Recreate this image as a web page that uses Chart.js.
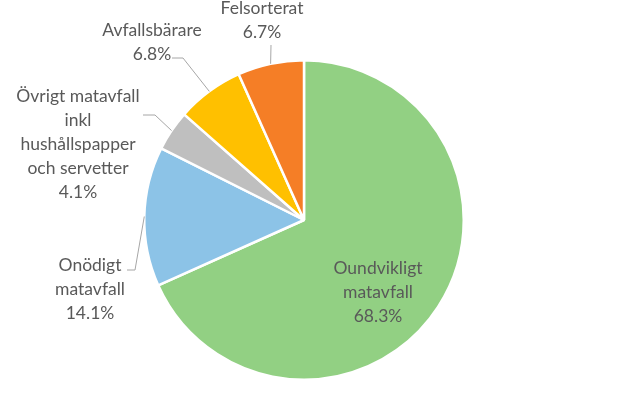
<!DOCTYPE html>
<html>
<head>
<meta charset="utf-8">
<script src="https://cdn.jsdelivr.net/npm/chart.js@4/dist/chart.umd.min.js"></script>
<style>
  html, body { margin: 0; padding: 0; background: #fff; }
  .wrap { width: 618px; height: 413px; position: relative; }
</style>
</head>
<body>
<div class="wrap"><canvas id="pie"></canvas></div>
<script>
/* ===== Data ===== */
const categories = [
  ['Oundvikligt', 'matavfall'],
  ['Onödigt', 'matavfall'],
  ['Övrigt matavfall', 'inkl', 'hushållspapper', 'och servetter'],
  ['Avfallsbärare'],
  ['Felsorterat']
];
const shares = [68.3, 14.1, 4.1, 6.8, 6.7];
const sliceColors = ['#92D083', '#8CC3E7', '#BFBFBF', '#FFC000', '#F57E26'];

/* ===== Label placement, relative to pie centre (px) ===== */
// text: centre of the text block; elbow: where the leader line bends; end: where it meets the text
const labelLayout = [
  { text: [74, 72], inside: true },
  { text: [-214, 69], elbow: [-169, 50], end: [-177, 50] },
  { text: [-226, -76], elbow: [-149, -105], end: [-161, -105] },
  { text: [-152, -178], elbow: [-121, -162], end: [-132, -162] },
  { text: [-42, -200], elbow: [-33, -175], end: [-33, -175] }
];

const LINE_H = 24;
const FONT = '17.5px Lato, "Noto Sans", sans-serif';

const labelPlugin = {
  id: 'excelLabels',
  afterDatasetsDraw(chart) {
    const ctx = chart.ctx;
    const meta = chart.getDatasetMeta(0);
    ctx.save();
    ctx.font = FONT;
    ctx.textAlign = 'center';
    ctx.textBaseline = 'middle';
    meta.data.forEach((arc, i) => {
      const cx = arc.x, cy = arc.y;
      const mid = (arc.startAngle + arc.endAngle) / 2;
      const lay = labelLayout[i];
      const lines = categories[i].concat([shares[i].toFixed(1) + '%']);
      const tx = cx + lay.text[0], ty = cy + lay.text[1];

      if (!lay.inside) {
        // leader line from slice edge
        const sx = cx + Math.cos(mid) * arc.outerRadius;
        const sy = cy + Math.sin(mid) * arc.outerRadius;
        ctx.strokeStyle = '#A6A6A6';
        ctx.lineWidth = 1;
        ctx.beginPath();
        ctx.moveTo(sx, sy);
        ctx.lineTo(cx + lay.elbow[0], cy + lay.elbow[1]);
        ctx.lineTo(cx + lay.end[0], cy + lay.end[1]);
        ctx.stroke();
      }

      ctx.fillStyle = '#595959';
      const top = ty - (lines.length - 1) * LINE_H / 2;
      lines.forEach((ln, k) => ctx.fillText(ln, tx, top + k * LINE_H));
    });
    ctx.restore();
  }
};

const chart = new Chart(document.getElementById('pie'), {
  type: 'pie',
  data: {
    labels: categories,
    datasets: [{
      data: shares,
      backgroundColor: sliceColors,
      borderColor: '#FFFFFF',
      borderWidth: 2.5
    }]
  },
  options: {
    responsive: true,
    maintainAspectRatio: false,
    animation: false,
    layout: { padding: { top: 59, bottom: 32, left: 143, right: 153 } },
    plugins: {
      legend: { display: false },
      tooltip: { enabled: false }
    }
  },
  plugins: [labelPlugin]
});
</script>
</body>
</html>
